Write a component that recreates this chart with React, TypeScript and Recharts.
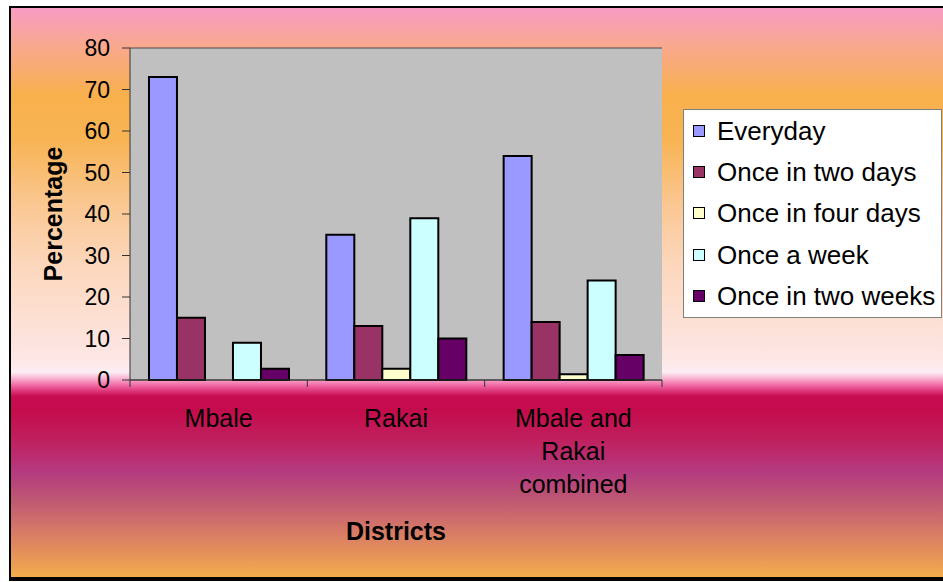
import { BarChart, Bar, XAxis, YAxis, CartesianGrid } from 'recharts';

const FONT = '"Liberation Sans", Arial, sans-serif';

const districts = ['Mbale', 'Rakai', 'Mbale and Rakai combined'];
const everyday = [73, 35, 54];
const onceInTwoDays = [15, 13, 14];
const onceInFourDays = [0, 2.7, 1.4];
const onceAWeek = [9, 39, 24];
const onceInTwoWeeks = [2.7, 10, 6];
const yTicks = [0, 10, 20, 30, 40, 50, 60, 70, 80];

const series = [
  { key: 'everyday', name: 'Everyday', values: everyday, color: '#9999FF' },
  { key: 'twoDays', name: 'Once in two days', values: onceInTwoDays, color: '#993366' },
  { key: 'fourDays', name: 'Once in four days', values: onceInFourDays, color: '#FFFFCC' },
  { key: 'week', name: 'Once a week', values: onceAWeek, color: '#CCFFFF' },
  { key: 'twoWeeks', name: 'Once in two weeks', values: onceInTwoWeeks, color: '#660066' },
];

const data = districts.map((district, i) => {
  const row: Record<string, string | number> = { district };
  series.forEach((s) => {
    row[s.key] = s.values[i];
  });
  return row;
});

const W = 943;
const H = 582;
const margin = { top: 48, right: 281, bottom: 32, left: 50 };
const plotWidth = W - margin.left - 80 - margin.right;

// greedy word wrap, roughly what excel does for long category names
function wrap(label: string, maxChars: number) {
  const lines: string[] = [];
  let cur = '';
  label.split(' ').forEach((w) => {
    if (cur && (cur + ' ' + w).length > maxChars) {
      lines.push(cur);
      cur = w;
    } else {
      cur = cur ? cur + ' ' + w : w;
    }
  });
  if (cur) lines.push(cur);
  return lines;
}

// ticks sit between the districts, labels wrap under the centre
function DistrictTick(props: any) {
  const { x, y, payload, index } = props;
  const band = plotWidth / districts.length;
  const lines = wrap(String(payload.value), 10);
  return (
    <g>
      <line x1={x - band / 2} y1={y} x2={x - band / 2} y2={y + 7} stroke="#333" />
      {index === districts.length - 1 && (
        <line x1={x + band / 2} y1={y} x2={x + band / 2} y2={y + 7} stroke="#333" />
      )}
      <text x={x} y={y + 47} textAnchor="middle" fill="#000" fontSize={25} fontFamily={FONT}>
        {lines.map((l, i) => (
          <tspan key={i} x={x} dy={i === 0 ? 0 : 33}>
            {l}
          </tspan>
        ))}
      </text>
    </g>
  );
}

export default function App() {
  return (
    <div
      style={{
        position: 'absolute',
        left: 0,
        top: 0,
        width: W,
        height: H,
        overflow: 'hidden',
        background: '#fff',
        fontFamily: FONT,
      }}
    >
      <div
        style={{
          position: 'absolute',
          left: 9,
          top: 6,
          width: 960,
          height: 569,
          borderTop: '2px solid #000',
          borderLeft: '2px solid #000',
          borderBottom: '4px solid #000',
          background:
            'linear-gradient(to bottom, #F89CC4 0%, #F9A890 6.5%, #F8B04C 15.3%, #F8B454 23.2%, #FAC68E 33.7%, #FCD6BA 44.3%, #FDE0D4 54.8%, #FDE6E6 61.9%, #FCEEF4 64%, #F9B8D4 65%, #F064A2 66.4%, #C80C50 68.2%, #C40C4C 70.7%, #C0205E 75.9%, #B43A80 81.5%, #BE5872 86.5%, #D67868 91.7%, #E69458 96.3%, #F4AC4C 100%)',
        }}
      />
      <div style={{ position: 'absolute', left: 0, top: 0 }}>
        <BarChart
          width={W}
          height={H}
          data={data}
          margin={margin}
          barCategoryGap="10.7%"
          barGap={0}
        >
          <CartesianGrid
            vertical={false}
            stroke="#4a4a4a"
            fill="#C0C0C0"
            fillOpacity={1}
          />
          <XAxis
            dataKey="district"
            height={170}
            tickLine={false}
            tickSize={0}
            tickMargin={0}
            axisLine={{ stroke: '#333' }}
            tick={<DistrictTick />}
            interval={0}
            label={{
              value: 'Districts',
              position: 'insideBottom',
              offset: 10,
              fill: '#000',
              style: { fontSize: 25, fontWeight: 'bold', fontFamily: FONT, textAnchor: 'middle' },
            }}
          />
          <YAxis
            yAxisId="left"
            width={80}
            domain={[0, 80]}
            ticks={yTicks}
            interval={0}
            tickSize={8}
            tickMargin={12}
            axisLine={{ stroke: '#333' }}
            tickLine={{ stroke: '#333' }}
            tick={{ fill: '#000', fontSize: 23, fontFamily: FONT }}
            label={{
              value: 'Percentage',
              angle: -90,
              position: 'insideLeft',
              offset: 3,
              fill: '#000',
              style: { fontSize: 25, fontWeight: 'bold', fontFamily: FONT, textAnchor: 'middle' },
            }}
          />
          <YAxis
            yAxisId="right"
            orientation="right"
            width={0}
            domain={[0, 80]}
            tick={false}
            tickLine={false}
            axisLine={{ stroke: '#808080' }}
          />
          {series.map((s) => (
            <Bar
              key={s.key}
              yAxisId="left"
              dataKey={s.key}
              name={s.name}
              fill={s.color}
              stroke="#000"
              strokeWidth={2}
              isAnimationActive={false}
            />
          ))}
        </BarChart>
      </div>
      <div
        style={{
          position: 'absolute',
          left: 683,
          top: 109,
          width: 259,
          height: 209,
          boxSizing: 'border-box',
          background: '#fff',
          border: '1px solid #808080',
        }}
      >
        {series.map((s) => (
          <div
            key={s.key}
            style={{ height: 41.4, display: 'flex', alignItems: 'center' }}
          >
            <span
              style={{
                display: 'inline-block',
                width: 12,
                height: 12,
                boxSizing: 'border-box',
                border: '1px solid #000',
                background: s.color,
                marginLeft: 9,
                marginRight: 12,
              }}
            />
            <span style={{ fontSize: 26, lineHeight: 1, color: '#000' }}>{s.name}</span>
          </div>
        ))}
      </div>
    </div>
  );
}
